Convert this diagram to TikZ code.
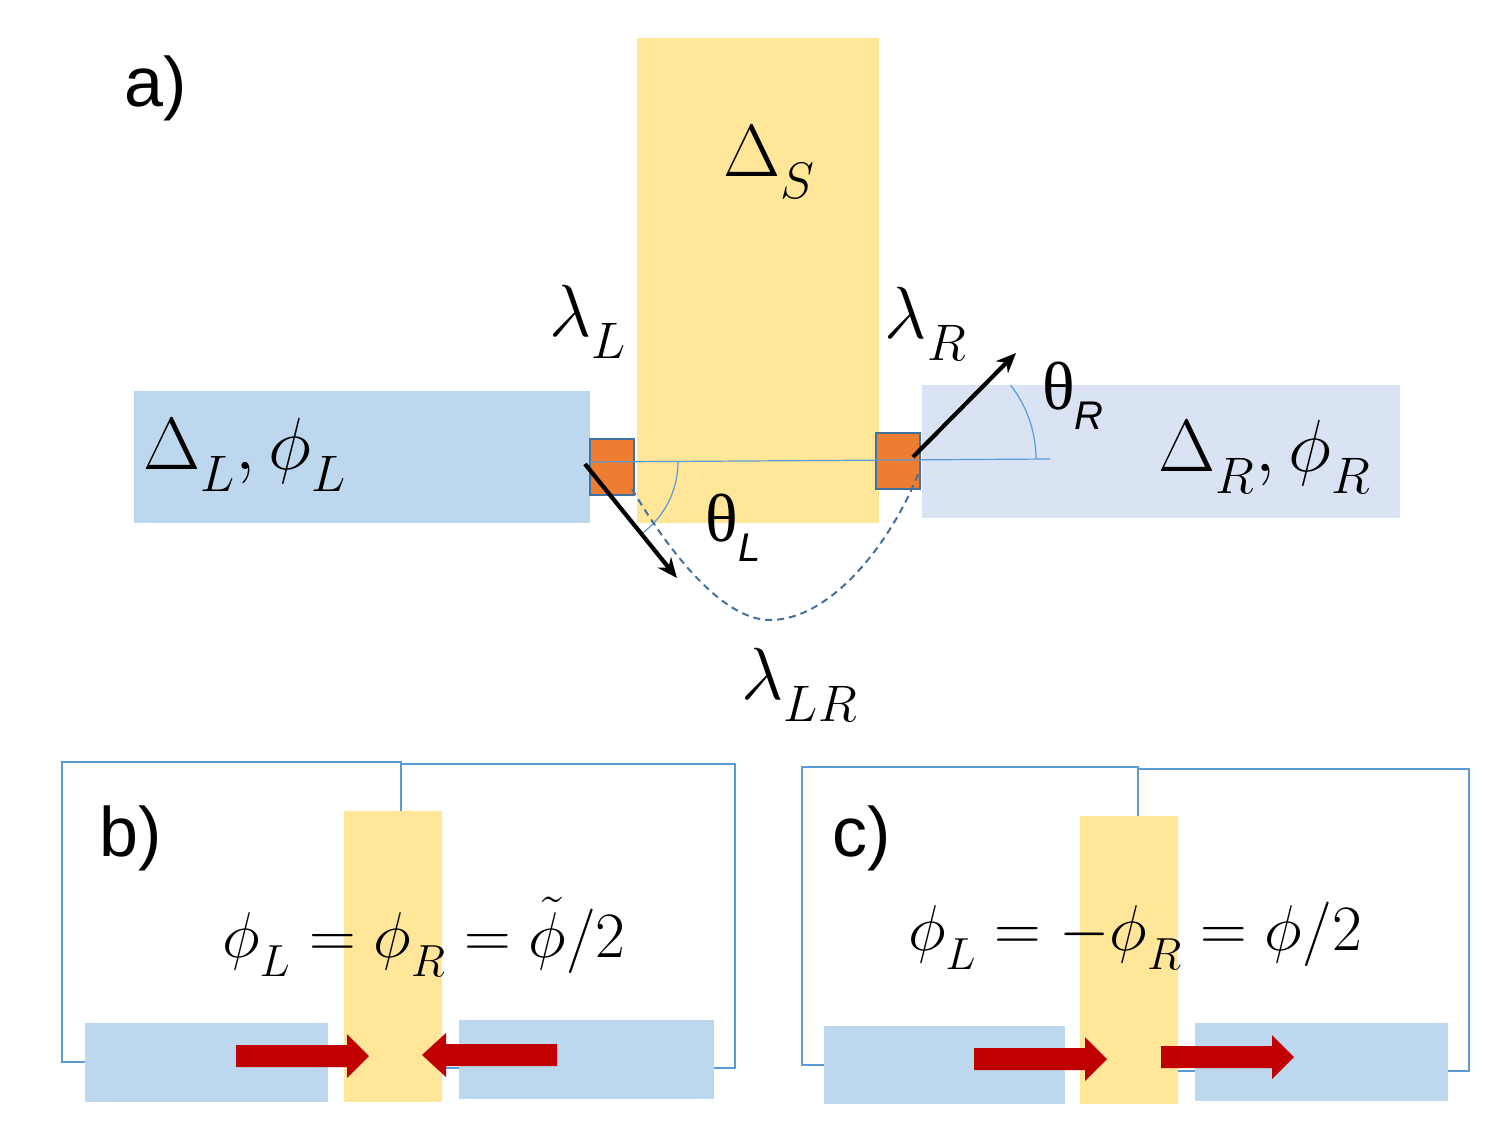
\documentclass[tikz,border=0pt]{standalone}
\usepackage{fontspec}
\setmainfont{Liberation Serif}
\setsansfont{Liberation Sans}
\usetikzlibrary{arrows.meta}
\DeclareMathSizes{24.88}{24.88}{17.28}{14.4}
\definecolor{yel}{HTML}{FFE699}
\definecolor{blu}{HTML}{BDD7EE}
\definecolor{lav}{HTML}{DAE3F3}
\definecolor{org}{HTML}{ED7D31}
\definecolor{orgb}{HTML}{41719C}
\definecolor{thinb}{HTML}{5B9BD5}
\definecolor{redc}{HTML}{C00000}
\newcommand\lsub[1]{_{\raisebox{-0.15em}{$\scriptstyle #1$}}}
\newcommand\redarrow[4]{%
  \fill[redc] (#1,#4-11) -- (#2,#4-11) -- (#2,#4-22) -- (#3,#4) -- (#2,#4+22) -- (#2,#4+11) -- (#1,#4+11) -- cycle;}
\tikzset{
  box/.style={inner sep=0pt, outer sep=0pt, anchor=north west},
  sq/.style={inner sep=0pt, outer sep=0pt, fill=org, draw=orgb, line width=2pt, minimum width=44pt, minimum height=56pt},
  thinl/.style={draw=thinb, line width=1.2pt},
  outl/.style={draw=thinb, line width=1.2pt},
  blackarr/.style={line width=4.2pt, -{Stealth[length=20pt,width=17pt]}},
  dashc/.style={draw=orgb, line width=2pt, dash pattern=on 7pt off 5pt},
  panel/.style={inner sep=0pt, font=\sffamily\fontsize{70}{80}\selectfont},
  mlab/.style={inner sep=0pt, scale=2.97, font=\fontsize{24.88}{30}\selectfont},
  tlab/.style={inner sep=0pt, font=\fontsize{68}{80}\selectfont},
  flab/.style={inner sep=0pt, scale=2.6, font=\fontsize{24.88}{30}\selectfont},
}
\begin{document}
\begin{tikzpicture}[x=1pt,y=-1pt]
\useasboundingbox (0,0) rectangle (1500,1125);
% ---------- panel a ----------
\node[box, fill=yel, minimum width=242pt, minimum height=485pt] (S) at (637,38) {};
\node[box, fill=blu, minimum width=456pt, minimum height=132pt] (L) at (134,391) {};
\node[box, fill=lav, minimum width=478pt, minimum height=133pt] (R) at (922,385) {};
\node[sq] (Lsq) at (612,467) {};
\node[sq] (Rsq) at (898,461) {};
\coordinate (hStart) at (590,462);
\coordinate (hEnd) at (1050,459);
\draw[thinl] (hStart) -- (hEnd);
\coordinate (cR) at (916,459);
\coordinate (cL) at (589,462);
\draw[thinl] (cR) ++(120,0) arc[start angle=0, end angle=-38, radius=120];
\draw[thinl] (cL) ++(89,0) arc[start angle=0, end angle=54, radius=89];
\coordinate (dA) at (632,489);
\coordinate (dM) at (770,620);
\coordinate (dB) at (919,472);
\draw[dashc] (dA) .. controls (665,545) and (720,620) .. (dM) .. controls (830,620) and (890,545) .. (dB);
\coordinate (aLs) at (585,464);
\coordinate (aLe) at (677,578);
\coordinate (aRs) at (913,457);
\coordinate (aRe) at (1016,353);
\draw[blackarr] (aLs) -- (aLe);
\draw[blackarr] (aRs) -- (aRe);
\node[panel] (la) at (156,88) {a)};
\node[mlab] (tS) at (770,162) {$\Delta\lsub{S}$};
\node[mlab] (tlL) at (588,322) {$\lambda\lsub{L}$};
\node[mlab] (tlR) at (926,324) {$\lambda\lsub{R}$};
\node[tlab] (tthR) at (1073,396) {θ\raisebox{-0.3em}{\sffamily\itshape\fontsize{40}{48}\selectfont R}};
\node[tlab] (tthL) at (733,528) {θ\raisebox{-0.3em}{\sffamily\itshape\fontsize{40}{48}\selectfont L}};
\node[mlab] (tDL) at (245,455) {$\Delta\lsub{L},\phi\lsub{L}$};
\node[mlab] (tDR) at (1265,457) {$\Delta\lsub{R},\phi\lsub{R}$};
\node[mlab] (tlLR) at (800,685) {$\lambda\lsub{LR}$};
% ---------- panel b ----------
\node[box, outl, minimum width=339pt, minimum height=300pt] (bO1) at (62,762) {};
\node[box, outl, minimum width=334pt, minimum height=304pt] (bO2) at (401,764) {};
\node[box, fill=yel, minimum width=98pt, minimum height=291pt] (bS) at (344,811) {};
\node[box, fill=blu, minimum width=243pt, minimum height=79pt] (bL) at (85,1023) {};
\node[box, fill=blu, minimum width=255pt, minimum height=79pt] (bR) at (459,1020) {};
\redarrow{236}{347}{369}{1056}
\redarrow{557}{446}{422}{1055}
\node[panel] (lb) at (131,838) {b)};
\node[flab] (fb) at (424,937) {$\phi\lsub{L}=\phi\lsub{R}=\tilde{\phi}/2$};
% ---------- panel c ----------
\node[box, outl, minimum width=336pt, minimum height=298pt] (cO1) at (802,767) {};
\node[box, outl, minimum width=331pt, minimum height=302pt] (cO2) at (1138,769) {};
\node[box, fill=yel, minimum width=98pt, minimum height=288pt] (cS) at (1080,816) {};
\node[box, fill=blu, minimum width=241pt, minimum height=78pt] (cL) at (824,1026) {};
\node[box, fill=blu, minimum width=253pt, minimum height=78pt] (cR2) at (1195,1023) {};
\redarrow{974}{1085}{1107}{1059}
\redarrow{1161}{1272}{1294}{1057}
\node[panel] (lc) at (862,838) {c)};
\node[flab] (fc) at (1135,936) {$\phi\lsub{L}=-\phi\lsub{R}=\phi/2$};
\end{tikzpicture}
\end{document}
